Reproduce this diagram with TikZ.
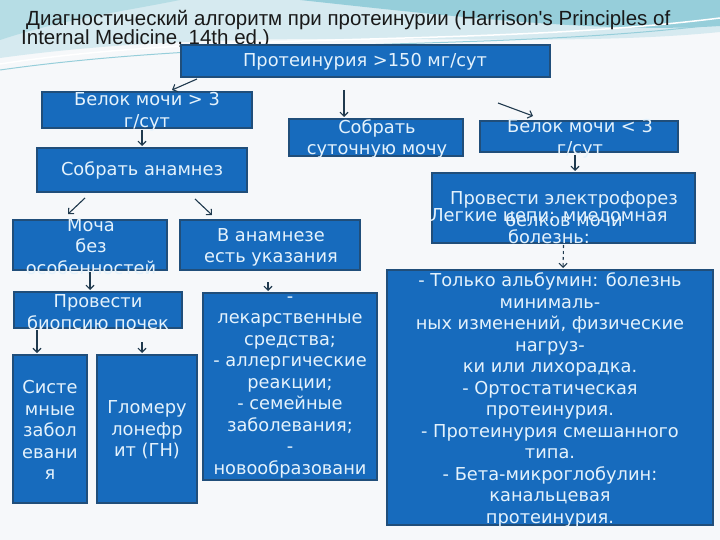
\documentclass[tikz,border=0pt]{standalone}
\usepackage{fontspec}
\setmainfont{DejaVu Sans}
\newfontfamily\titlefont{Liberation Sans}
\usetikzlibrary{arrows.meta,calc}

\definecolor{pagebg}{RGB}{246,248,250}
\definecolor{boxfill}{RGB}{23,107,189}
\definecolor{boxline}{RGB}{32,78,122}
\definecolor{boxtext}{RGB}{228,242,252}
\definecolor{arrowcol}{RGB}{32,58,78}
\definecolor{swooshA}{RGB}{214,234,240}
\definecolor{swooshB}{RGB}{150,206,218}
\definecolor{titlecol}{RGB}{25,25,25}

\tikzset{
  box/.style={draw=boxline, fill=boxfill, line width=1.6pt, inner sep=0pt, outer sep=0pt},
  txt/.style={text=boxtext, align=center, inner sep=0pt, font=\fontsize{17.8}{21.5}\selectfont},
  arr/.style={draw=arrowcol, line width=1.1pt, -{Straight Barb[length=4pt,width=8pt]}},
}

\begin{document}
\begin{tikzpicture}[x=1pt,y=-1pt]
  % page and template swooshes
  \fill[pagebg] (0,0) rectangle (720,540);
  \useasboundingbox (0,0) rectangle (720,540);
  \fill[swooshA] (0,0) -- (720,0) -- (720,32) .. controls (520,52) and (260,22) .. (0,58) -- cycle;
  \fill[swooshB] (300,0) -- (720,0) -- (720,26) .. controls (600,34) and (430,14) .. (300,0) -- cycle;
  \fill[swooshB!70] (0,0) -- (180,0) .. controls (120,12) and (60,20) .. (0,40) -- cycle;
  \draw[white, line width=1.5pt] (0,64) .. controls (220,30) and (480,48) .. (720,18);
  \draw[swooshB, line width=1pt] (0,70) .. controls (240,36) and (500,52) .. (720,24);

  % title
  \node[anchor=base west, inner sep=0pt, text=titlecol] (title1) at (26,26)
    {\titlefont\fontsize{20.5}{24}\selectfont Диагностический алгоритм при протеинурии (Harrison's Principles of};
  \node[anchor=base west, inner sep=0pt, text=titlecol] (title2) at (21,45)
    {\titlefont\fontsize{20.5}{24}\selectfont Internal Medicine, 14th ed.)};

  % boxes
  \node[box, minimum width=369, minimum height=32] (prot) at (365.5,61) {};
  \node[box, minimum width=210, minimum height=36] (gt3) at (147,110) {};
  \node[box, minimum width=174, minimum height=37] (daily) at (376,137.5) {};
  \node[box, minimum width=198, minimum height=31] (lt3) at (579,136.5) {};
  \node[box, minimum width=210, minimum height=44] (anam) at (142,170) {};
  \node[box, minimum width=263, minimum height=70] (elec) at (563.5,208) {};
  \node[box, minimum width=154, minimum height=50] (norm) at (90,245) {};
  \node[box, minimum width=180, minimum height=50] (hist) at (270,245) {};
  \node[box, minimum width=168, minimum height=36] (biop) at (98,310) {};
  \node[box, minimum width=174, minimum height=187] (drugs) at (290,386.5) {};
  \node[box, minimum width=74, minimum height=148] (sys) at (50,429) {};
  \node[box, minimum width=100, minimum height=148] (glom) at (147,429) {};
  \node[box, minimum width=326, minimum height=255] (big) at (550,397.5) {};

  % texts
  \node[txt] (prot-t) at (365,62) {Протеинурия >150 мг/сут};
  \node[txt] (gt3-t) at (147,111.5) {Белок мочи > 3\\г/сут};
  \node[txt] (daily-t) at (377,139) {Собрать\\суточную мочу};
  \node[txt] (lt3-t) at (580,138.5) {Белок мочи < 3\\г/сут};
  \node[txt] (anam-t) at (142,170) {Собрать анамнез};
  \node[txt] (elec-t) at (564,209) {Провести электрофорез\\белков мочи};
  \node[txt] (chain-t) at (549,226) {Легкие цепи: миеломная\\болезнь:};
  \node[txt] (norm-t) at (91,246.5) {Моча\\без\\особенностей};
  \node[txt] (hist-t) at (271,247.5) {В анамнезе\\есть указания};
  \node[txt] (biop-t) at (98,312) {Провести\\биопсию почек};
  \node[txt] (drugs-t) at (290,387.5) {-\\лекарственные\\средства;\\- аллергические\\реакции;\\- семейные\\заболевания;\\-\\новообразовани};
  \node[txt] (sys-t) at (50,430) {Систе\\мные\\забол\\евани\\я};
  \node[txt] (glom-t) at (147,430) {Гломеру\\лонефр\\ит (ГН)};
  \node[txt] (big-t) at (550,400) {- Только альбумин: болезнь\\минималь-\\ных изменений, физические\\нагруз-\\ки или лихорадка.\\- Ортостатическая\\протеинурия.\\- Протеинурия смешанного\\типа.\\- Бета-микроглобулин:\\канальцевая\\протеинурия.};

  % arrows
  \draw[arr] ([xshift=16,yshift=-2]prot.south west) -- ([xshift=25,yshift=2]gt3.north);
  \draw[arr] ([xshift=-21.5,yshift=-13]prot.south) -- ([xshift=-32,yshift=2]daily.north);
  \draw[arr] ([xshift=-52,yshift=-26]prot.south east) -- ([xshift=53,yshift=5]lt3.north west);
  \draw[arr] ([xshift=-5,yshift=-2]gt3.south) -- ([yshift=2]anam.north);
  \draw[arr] ([xshift=-57,yshift=-6]anam.south) -- ([xshift=-22,yshift=6]norm.north);
  \draw[arr] ([xshift=53,yshift=-7]anam.south) -- ([xshift=-58,yshift=5]hist.north);
  \draw[arr] ([xshift=-4,yshift=-3]lt3.south) -- ([xshift=11.5,yshift=2]elec.north);
  \draw[arr, dashed] ([yshift=-2]elec.south) -- ([xshift=13,yshift=2]big.north);
  \draw[arr] ([yshift=-2]norm.south) -- ([xshift=-8,yshift=2]biop.north);
  \draw[arr] ([xshift=-2,yshift=-12]hist.south) -- ([xshift=-22,yshift=2]drugs.north);
  \draw[arr] ([xshift=23,yshift=-2]biop.south west) -- ([xshift=-13,yshift=2]sys.north);
  \draw[arr] ([xshift=44,yshift=-14]biop.south) -- ([xshift=-5,yshift=2]glom.north);
\end{tikzpicture}
\end{document}
